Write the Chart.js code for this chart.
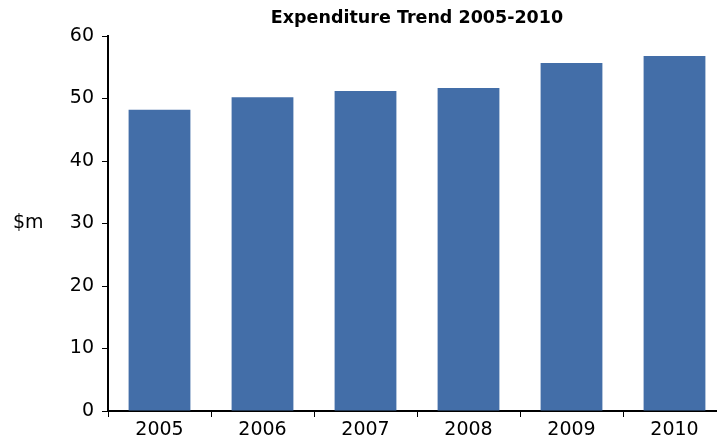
<!DOCTYPE html>
<html>
<head>
<meta charset="utf-8">
<script src="https://cdn.jsdelivr.net/npm/chart.js@4"></script>
<style>
  html, body { margin: 0; padding: 0; background: #fff; overflow: hidden; }
  #wrap { width: 726px; height: 438px; }
</style>
</head>
<body>
<div id="wrap"><canvas id="expenditureChart"></canvas></div>
<script>
const years = ['2005', '2006', '2007', '2008', '2009', '2010'];
const expenditure = [48.2, 50.2, 51.2, 51.7, 55.7, 56.8]; // $m
const yTicks = [0, 10, 20, 30, 40, 50, 60];

const FONT = '"DejaVu Sans", "Liberation Sans", Arial, sans-serif';

// "$m" sits horizontally to the left of the y axis
const sideLabel = {
  id: 'sideLabel',
  afterDraw(chart) {
    const { ctx, chartArea } = chart;
    ctx.save();
    ctx.font = '19px ' + FONT;
    ctx.fillStyle = '#000';
    ctx.textAlign = 'left';
    ctx.textBaseline = 'middle';
    ctx.fillText('$m', 13, (chartArea.top + chartArea.bottom) / 2);
    ctx.restore();
  }
};

const ctx = document.getElementById('expenditureChart').getContext('2d');
new Chart(ctx, {
  type: 'bar',
  data: {
    labels: years,
    datasets: [{
      label: 'Expenditure',
      data: expenditure,
      backgroundColor: '#436ea8',
      borderWidth: 0,
      barPercentage: 0.6,
      categoryPercentage: 1.0
    }]
  },
  options: {
    responsive: true,
    maintainAspectRatio: false,
    animation: false,
    layout: { padding: { top: 0, right: 0, bottom: 0, left: 0 } },
    plugins: {
      legend: { display: false },
      tooltip: { enabled: false },
      title: {
        display: true,
        fullSize: false,
        text: 'Expenditure Trend 2005-2010',
        color: '#000',
        font: { family: FONT, size: 17.5, weight: 'bold' },
        padding: { top: 8, bottom: 7 }
      }
    },
    scales: {
      x: {
        grid: { display: true, drawOnChartArea: false, drawTicks: true, tickLength: 6, color: '#000', offset: true },
        border: { display: true, color: '#000', width: 2 },
        ticks: { color: '#000', padding: 2, font: { family: FONT, size: 19 } },
        afterFit(scale) { scale.height = 27; }
      },
      y: {
        min: 0,
        max: 60,
        afterBuildTicks(scale) { scale.ticks = yTicks.map(v => ({ value: v })); },
        grid: { display: true, drawOnChartArea: false, drawTicks: true, tickLength: 6, color: '#000' },
        border: { display: true, color: '#000', width: 2 },
        ticks: { color: '#000', padding: 8, font: { family: FONT, size: 19 } },
        afterFit(scale) { scale.width = 108; }
      }
    }
  },
  plugins: [sideLabel]
});
</script>
</body>
</html>
